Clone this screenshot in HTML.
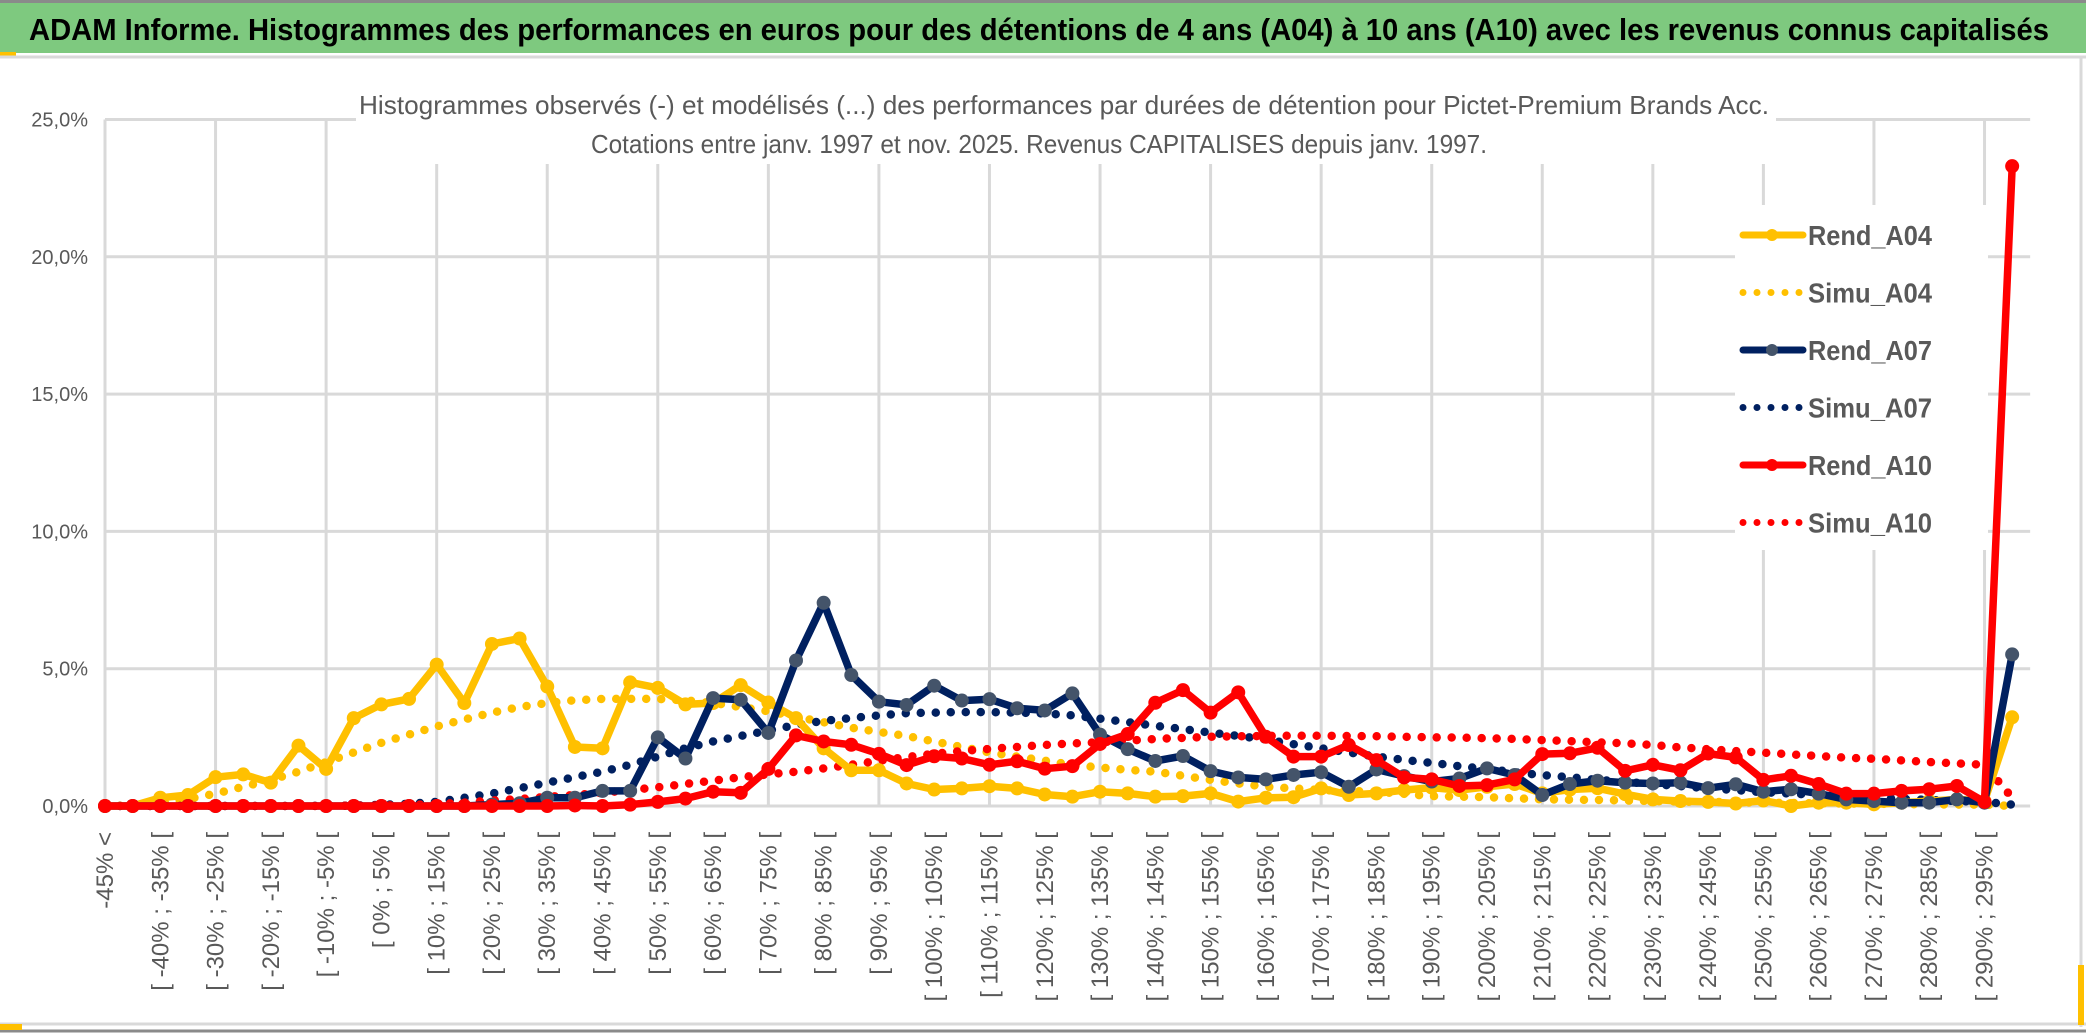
<!DOCTYPE html>
<html><head><meta charset="utf-8">
<style>
html,body{margin:0;padding:0;background:#fff;}
svg{display:block;}
text{font-family:"Liberation Sans",sans-serif;}
</style></head>
<body>
<svg id="chart" width="2086" height="1033" viewBox="0 0 2086 1033" xmlns="http://www.w3.org/2000/svg">
  <rect x="0" y="0" width="2086" height="1033" fill="#ffffff"/>
  <rect x="0" y="3" width="2086" height="50" fill="#7ec97f"/>
  <line x1="0" y1="1.5" x2="2086" y2="1.5" stroke="#8a8a8a" stroke-width="3"/>
  <rect x="0" y="52" width="16" height="4" fill="#ffc000"/>
  <line x1="0" y1="57" x2="2086" y2="57" stroke="#d9d9d9" stroke-width="3"/>
  <text x="29" y="40" font-size="31" font-weight="bold" fill="#000" textLength="2020" lengthAdjust="spacingAndGlyphs">ADAM Informe. Histogrammes des performances en euros pour des détentions de 4 ans (A04) à 10 ans (A10) avec les revenus connus capitalisés</text>
  <line x1="2081" y1="57" x2="2081" y2="1027" stroke="#d9d9d9" stroke-width="3"/>
  <line x1="0" y1="1024" x2="2086" y2="1024" stroke="#d9d9d9" stroke-width="3"/>
  <line x1="0" y1="1031" x2="2086" y2="1031" stroke="#8a8a8a" stroke-width="3"/>
  <rect x="0" y="1024" width="22" height="6" fill="#ffc000"/>
  <rect x="2078" y="965" width="6" height="60" fill="#ffc000"/>
  <g id="grid"></g>
  <rect x="356" y="60" width="1420" height="104" fill="#fff"/>
  <rect x="1735" y="205" width="253" height="345" fill="#fff"/>
  <text x="1064" y="114" font-size="26" fill="#595959" text-anchor="middle" textLength="1410" lengthAdjust="spacingAndGlyphs">Histogrammes observés (-) et modélisés (...) des performances par durées de détention pour Pictet-Premium Brands Acc.</text>
  <text x="1039" y="153" font-size="26" fill="#595959" text-anchor="middle" textLength="896" lengthAdjust="spacingAndGlyphs">Cotations entre janv. 1997 et nov. 2025. Revenus CAPITALISES depuis janv. 1997.</text>
  <g id="yaxis"></g>
  <g id="xaxis"></g>
  <g id="series"></g>
  <g id="legend"></g>
</svg>
<script>
const yTicks = [0,5,10,15,20,25];
const simA04 = [0,0.02,0.1,0.25,0.45,0.7,0.95,1.25,1.6,1.95, 2.3,2.6,2.9,3.15,3.4,3.6,3.75,3.85,3.9,3.9, 3.9,3.85,3.75,3.6,3.45,3.25,3.05,2.85,2.7,2.55, 2.35,2.15,1.95,1.8,1.65,1.5,1.4,1.32,1.25,1.1, 0.95,0.82,0.7,0.64,0.58,0.55,0.52,0.44,0.36,0.34, 0.32,0.28,0.24,0.23,0.22,0.2,0.18,0.16,0.15,0.14, 0.12,0.11,0.1,0.09,0.08,0.07,0.06,0.05,0.05,0];
const simA07 = [0,0,0,0,0,0,0,0,0.01,0.02, 0.04,0.08,0.15,0.3,0.45,0.65,0.85,1.05,1.25,1.5, 1.8,2.1,2.35,2.55,2.75,2.95,3.1,3.2,3.3,3.38, 3.4,3.42,3.42,3.4,3.37,3.3,3.18,3.05,2.92,2.8, 2.67,2.55,2.42,2.25,2.1,1.95,1.8,1.68,1.57,1.45, 1.35,1.23,1.12,1.05,0.95,0.88,0.8,0.72,0.65,0.58, 0.5,0.45,0.4,0.35,0.3,0.26,0.22,0.18,0.15,0.05];
const simA10 = [0,0,0,0,0,0,0,0,0,0.01, 0.02,0.04,0.07,0.12,0.2,0.25,0.33,0.4,0.48,0.58, 0.68,0.8,0.92,1.05,1.15,1.25,1.37,1.5,1.65,1.78, 1.9,2.0,2.08,2.15,2.22,2.28,2.32,2.38,2.44,2.48, 2.52,2.54,2.55,2.56,2.56,2.55,2.54,2.52,2.5,2.49, 2.47,2.44,2.4,2.36,2.32,2.28,2.22,2.13,2.07,2.0, 1.94,1.88,1.82,1.76,1.72,1.66,1.6,1.55,1.5,0.3];
const rendA04 = [0,0,0.3,0.4,1.05,1.15,0.85,2.2,1.35,3.2, 3.7,3.9,5.15,3.75,5.9,6.1,4.35,2.15,2.1,4.5, 4.3,3.7,3.75,4.4,3.77,3.2,2.1,1.3,1.3,0.82, 0.6,0.64,0.72,0.64,0.42,0.34,0.52,0.46,0.34,0.36, 0.46,0.16,0.3,0.32,0.64,0.4,0.46,0.58,0.67,0.58, 0.7,0.8,0.46,0.6,0.65,0.43,0.24,0.18,0.15,0.09, 0.2,0,0.12,0.12,0.06,0.12,0.18,0.24,0.18,3.23];
const rendA07 = [0,0,0,0,0,0,0,0,0,0, 0,0,0,0,0.05,0.1,0.3,0.3,0.55,0.55, 2.5,1.73,3.93,3.87,2.66,5.3,7.4,4.77,3.8,3.68, 4.38,3.84,3.89,3.56,3.48,4.1,2.6,2.07,1.64,1.82, 1.27,1.04,0.97,1.13,1.23,0.7,1.33,1.09,0.89,1.0, 1.37,1.13,0.4,0.8,0.92,0.85,0.82,0.85,0.65,0.79, 0.52,0.61,0.45,0.24,0.18,0.12,0.12,0.24,0.12,5.52];
const rendA10 = [0,0,0,0,0,0,0,0,0,0, 0,0,0,0,0,0,0,0.02,0,0.05, 0.15,0.27,0.52,0.48,1.35,2.57,2.35,2.23,1.9,1.49, 1.81,1.73,1.5,1.63,1.36,1.45,2.26,2.62,3.76,4.22, 3.4,4.14,2.52,1.8,1.8,2.22,1.67,1.04,0.97,0.73, 0.76,0.97,1.89,1.92,2.12,1.28,1.5,1.3,1.91,1.77, 0.95,1.1,0.8,0.45,0.45,0.55,0.61,0.73,0.15,23.3];
const seriesNames = ["Rend_A04","Simu_A04","Rend_A07","Simu_A07","Rend_A10","Simu_A10"];

const NS = "http://www.w3.org/2000/svg";
const N = rendA04.length;
const X0 = 105, DX = 27.64, Y0 = 806, PX = 27.46;
function xs(i){ return X0 + i*DX; }
function ys(v){ return Y0 - v*PX; }
function mk(tag, attrs, parent){
  const e = document.createElementNS(NS, tag);
  for (const k in attrs) e.setAttribute(k, attrs[k]);
  parent.appendChild(e); return e;
}
function catLabel(i){
  if (i === 0) return "-45% <";
  if (i === N-1) return "295% <";
  const lo = -45 + (i-1)*5;
  return "[ " + lo + "% ; " + (lo+5) + "% [";
}
const grid = document.getElementById('grid');
const yaxis = document.getElementById('yaxis');
const xaxis = document.getElementById('xaxis');
const ser = document.getElementById('series');
const leg = document.getElementById('legend');
const xEnd = xs(N-1) + 18;
yTicks.forEach(t => {
  const l = mk('line', {x1:X0, x2:xEnd, y1:ys(t), y2:ys(t), stroke:'#d9d9d9', 'stroke-width':3}, grid);
  
  
  const tx = mk('text', {x:88, y:ys(t)+7, 'font-size':20, fill:'#595959', 'text-anchor':'end'}, yaxis);
  tx.textContent = t.toFixed(1).replace('.', ',') + '%';
  
  
});
for (let i = 0; i < N; i += 4) {
  const l = mk('line', {x1:xs(i), x2:xs(i), y1:ys(25), y2:ys(0), stroke:'#d9d9d9', 'stroke-width':3}, grid);
  
  
}
for (let i = 0; i < N-1; i += 2) {
  const x = xs(i) + 8, y = 832;
  const tx = mk('text', {x:x, y:y, 'font-size':24, fill:'#595959', 'text-anchor':'end', transform:'rotate(-90 '+x+' '+y+')'}, xaxis);
  tx.textContent = catLabel(i);
  
  
}
function pathOf(arr){ return arr.map((v,i)=>(i?'L':'M')+xs(i).toFixed(1)+' '+ys(v).toFixed(1)).join(' '); }
function dotted(arr, color, name){
  const p = mk('path', {d:pathOf(arr), fill:'none', stroke:color, 'stroke-width':8.5, 'stroke-linecap':'round', 'stroke-dasharray':'0 15'}, ser);
  
  
}
function solid(arr, color, mcolor, name){
  const g = mk('g', {}, ser);
  
  
  mk('path', {d:pathOf(arr), fill:'none', stroke:color, 'stroke-width':7.5, 'stroke-linejoin':'round'}, g);
  arr.forEach((v,i) => {
    const c = mk('circle', {cx:xs(i), cy:ys(v), r:7, fill:mcolor}, g);
    
    
  });
}
dotted(simA04, '#ffc000', 'simu-a04-line');
dotted(simA07, '#002060', 'simu-a07-line');
dotted(simA10, '#ff0000', 'simu-a10-line');
solid(rendA04, '#ffc000', '#ffc000', 'rend-a04-line');
solid(rendA07, '#002060', '#44546a', 'rend-a07-line');
solid(rendA10, '#ff0000', '#ff0000', 'rend-a10-line');

const legColors = ['#ffc000','#ffc000','#002060','#002060','#ff0000','#ff0000'];
const legMarker = ['#ffc000',null,'#44546a',null,'#ff0000',null];
seriesNames.forEach((nm, k) => {
  const cy = 235 + k*57.5;
  const g = mk('g', {}, leg);
  
  
  if (legMarker[k]) {
    mk('line', {x1:1743, x2:1803, y1:cy, y2:cy, stroke:legColors[k], 'stroke-width':7, 'stroke-linecap':'round'}, g);
    mk('circle', {cx:1772, cy:cy, r:6, fill:legMarker[k]}, g);
  } else {
    mk('line', {x1:1743, x2:1800, y1:cy, y2:cy, stroke:legColors[k], 'stroke-width':7, 'stroke-linecap':'round', 'stroke-dasharray':'0 14'}, g);
  }
  const t = mk('text', {x:1808, y:cy+10, 'font-size':28, 'font-weight':'bold', fill:'#595959', textLength:124, lengthAdjust:'spacingAndGlyphs'}, g);
  t.textContent = nm;
});
</script>
</body></html>
